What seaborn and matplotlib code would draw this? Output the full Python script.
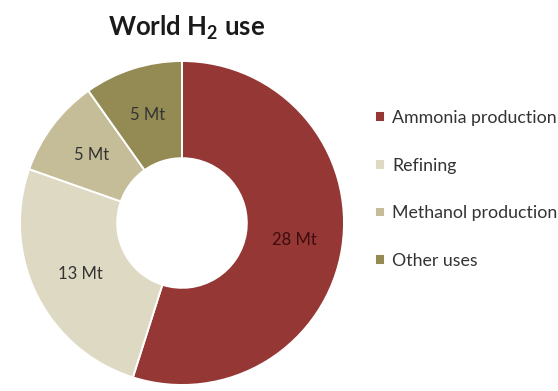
import matplotlib
matplotlib.use("Agg")
import matplotlib.pyplot as plt
import seaborn as sns

# World hydrogen consumption by end use, million tonnes
categories = ["Ammonia production", "Refining", "Methanol production", "Other uses"]
values_mt = [28, 13, 5, 5]
colors = ["#953735", "#DDD9C3", "#C4BD97", "#948A54"]
label_colors = ["#3d0c0c", "#333333", "#333333", "#333333"]
title = "World H$_\\mathbf{2}$ use"

sns.set_theme(style="white")
plt.rcParams["font.family"] = ["Lato", "DejaVu Sans"]
plt.rcParams["mathtext.fontset"] = "custom"
plt.rcParams["mathtext.rm"] = "Lato"
plt.rcParams["mathtext.bf"] = "Lato:bold"

palette = sns.color_palette(colors)
total = sum(values_mt)

fig = plt.figure(figsize=(5.58, 3.91), dpi=100)
fig.patch.set_facecolor("white")

# square axes holding the donut
W, H = 558, 391
cx, cy, r = 182, 223, 162
ax = fig.add_axes([(cx - r) / W, (H - cy - r) / H, 2 * r / W, 2 * r / H])

wedges, texts, autotexts = ax.pie(
    values_mt,
    colors=palette,
    startangle=90,
    counterclock=False,
    radius=1.0,
    wedgeprops=dict(width=0.6, edgecolor="white", linewidth=1.4),
    autopct=lambda p: f"{round(p * total / 100)} Mt",
    pctdistance=0.70,
    textprops=dict(fontsize=12),
)
for t, c in zip(autotexts, label_colors):
    t.set_color(c)
ax.set_xlim(-1, 1)
ax.set_ylim(-1, 1)
ax.set_aspect("equal")
ax.axis("off")

fig.text(187 / W, 1 - 35 / H, title, ha="center", va="baseline",
         fontsize=18.5, fontweight="bold", color="#1a1a1a")

fig.legend(
    wedges, categories,
    loc="upper left", bbox_to_anchor=(375 / W, 1 - 110 / H),
    frameon=False, fontsize=12.8,
    handlelength=0.56, handleheight=0.56, handletextpad=0.39,
    labelspacing=1.78, borderpad=0, borderaxespad=0,
    labelcolor="#333333",
)

fig.savefig("out.png", dpi=100, facecolor="white")
